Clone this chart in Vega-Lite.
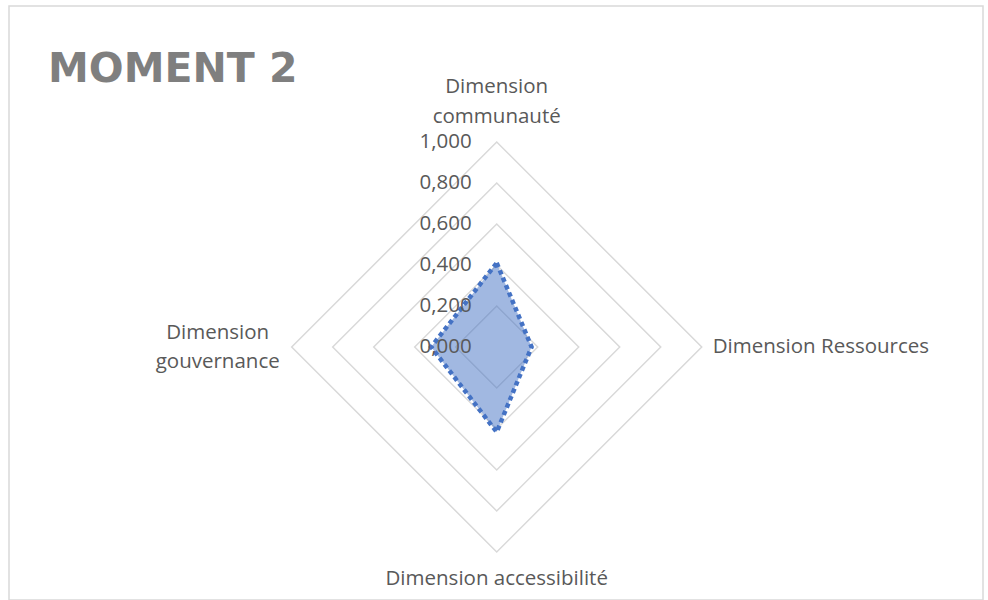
{
  "$schema": "https://vega.github.io/schema/vega-lite/v6.json",
  "width": 974,
  "height": 594,
  "autosize": "none",
  "padding": {"left": 9, "top": 6, "right": 5, "bottom": 0},
  "background": "white",
  "config": {
    "view": {"stroke": "#d9d9d9", "strokeWidth": 1.5},
    "text": {"font": "Open Sans", "fontSize": 20.5, "color": "#595959"}
  },
  "title": {
    "text": "MOMENT 2",
    "anchor": "start",
    "orient": "top",
    "frame": "group",
    "font": "DejaVu Sans",
    "fontWeight": "bold",
    "fontSize": 41,
    "color": "#7f7f7f",
    "baseline": "alphabetic",
    "offset": -117,
    "dx": 39
  },
  "datasets": {
    "scores": [
      {"dimension": "Dimension communauté", "k": 0, "value": 0.41},
      {"dimension": "Dimension Ressources", "k": 1, "value": 0.17},
      {"dimension": "Dimension accessibilité", "k": 2, "value": 0.415},
      {"dimension": "Dimension gouvernance", "k": 3, "value": 0.32}
    ],
    "rings": [
      {"r": 0.2, "k": 0}, {"r": 0.2, "k": 1}, {"r": 0.2, "k": 2}, {"r": 0.2, "k": 3},
      {"r": 0.4, "k": 0}, {"r": 0.4, "k": 1}, {"r": 0.4, "k": 2}, {"r": 0.4, "k": 3},
      {"r": 0.6, "k": 0}, {"r": 0.6, "k": 1}, {"r": 0.6, "k": 2}, {"r": 0.6, "k": 3},
      {"r": 0.8, "k": 0}, {"r": 0.8, "k": 1}, {"r": 0.8, "k": 2}, {"r": 0.8, "k": 3},
      {"r": 1.0, "k": 0}, {"r": 1.0, "k": 1}, {"r": 1.0, "k": 2}, {"r": 1.0, "k": 3}
    ],
    "ticks": [
      {"v": 0.0, "label": "0,000"},
      {"v": 0.2, "label": "0,200"},
      {"v": 0.4, "label": "0,400"},
      {"v": 0.6, "label": "0,600"},
      {"v": 0.8, "label": "0,800"},
      {"v": 1.0, "label": "1,000"}
    ]
  },
  "encoding": {
    "x": {"field": "x", "type": "quantitative", "scale": {"domain": [-2.379, 2.372], "nice": false, "zero": false}, "axis": null},
    "y": {"field": "y", "type": "quantitative", "scale": {"domain": [-1.2342, 1.6634], "nice": false, "zero": false}, "axis": null}
  },
  "layer": [
    {
      "data": {"name": "rings"},
      "transform": [
        {"calculate": "datum.r * sin(datum.k * PI / 2)", "as": "x"},
        {"calculate": "datum.r * cos(datum.k * PI / 2)", "as": "y"}
      ],
      "mark": {"type": "line", "interpolate": "linear-closed", "stroke": "#d9d9d9", "strokeWidth": 1.5},
      "encoding": {
        "detail": {"field": "r"},
        "order": {"field": "k"}
      }
    },
    {
      "data": {"name": "scores"},
      "transform": [
        {"calculate": "datum.value * sin(datum.k * PI / 2)", "as": "x"},
        {"calculate": "datum.value * cos(datum.k * PI / 2)", "as": "y"}
      ],
      "mark": {"type": "line", "interpolate": "linear-closed", "fill": "#4472C4", "fillOpacity": 0.5, "stroke": "#4472C4", "strokeWidth": 4.5, "strokeDash": [4.5, 3.5]},
      "encoding": {
        "order": {"field": "k"}
      }
    },
    {
      "data": {"name": "ticks"},
      "transform": [
        {"calculate": "0", "as": "x"},
        {"calculate": "datum.v", "as": "y"}
      ],
      "mark": {"type": "text", "align": "right", "baseline": "middle", "dx": -25},
      "encoding": {"text": {"field": "label"}}
    },
    {
      "data": {"name": "scores"},
      "transform": [
        {"filter": "datum.k == 0"},
        {"calculate": "0", "as": "x"},
        {"calculate": "1", "as": "y"}
      ],
      "mark": {"type": "text", "align": "center", "baseline": "middle", "dy": -55, "lineBreak": " ", "lineHeight": 30},
      "encoding": {"text": {"field": "dimension"}}
    },
    {
      "data": {"name": "scores"},
      "transform": [
        {"filter": "datum.k == 1"},
        {"calculate": "1", "as": "x"},
        {"calculate": "0", "as": "y"}
      ],
      "mark": {"type": "text", "align": "left", "baseline": "middle", "dx": 11},
      "encoding": {"text": {"field": "dimension"}}
    },
    {
      "data": {"name": "scores"},
      "transform": [
        {"filter": "datum.k == 2"},
        {"calculate": "0", "as": "x"},
        {"calculate": "-1", "as": "y"}
      ],
      "mark": {"type": "text", "align": "center", "baseline": "middle", "dy": 27},
      "encoding": {"text": {"field": "dimension"}}
    },
    {
      "data": {"name": "scores"},
      "transform": [
        {"filter": "datum.k == 3"},
        {"calculate": "-1", "as": "x"},
        {"calculate": "0", "as": "y"}
      ],
      "mark": {"type": "text", "align": "center", "baseline": "middle", "dx": -74, "dy": -14, "lineBreak": " ", "lineHeight": 29},
      "encoding": {"text": {"field": "dimension"}}
    }
  ]
}
